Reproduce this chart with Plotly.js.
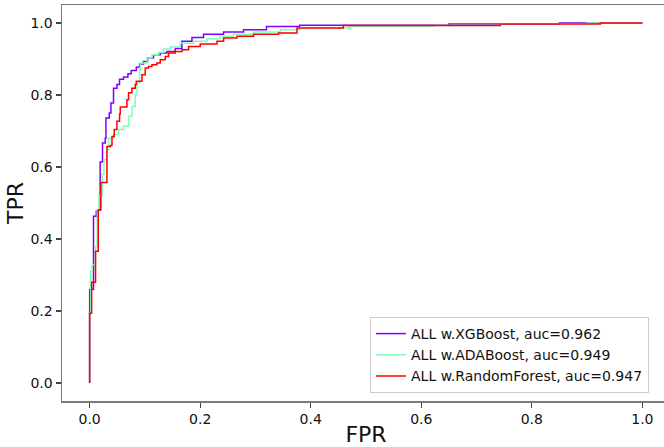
<!DOCTYPE html>
<html>
<head>
<meta charset="utf-8">
<script src="https://cdn.plot.ly/plotly-3.0.1.min.js"></script>
<style>
html,body{margin:0;padding:0;overflow:hidden;background:#fff;width:664px;height:447px;}
#chart{width:672px;height:447px;}
</style>
</head>
<body>
<div id="chart"></div>
<script>
// Series names and AUC labels
const seriesNames = ["ALL w.XGBoost, auc=0.962", "ALL w.ADABoost, auc=0.949", "ALL w.RandomForest, auc=0.947"];
const seriesColors = ["#8000ff", "#80ffb4", "#ff0000"];

// XGBoost ROC (step corners)
const xgbFpr = [0, 0, 0.007, 0.012, 0.016, 0.019, 0.0233, 0.0282, 0.0295, 0.0355, 0.0385, 0.0432, 0.0494, 0.0541, 0.0613, 0.0693, 0.0753, 0.0843, 0.0903, 0.0975, 0.1048, 0.1156, 0.1278, 0.1399, 0.1549, 0.167, 0.1851, 0.2061, 0.2423, 0.2785, 0.32, 0.38, 0.65, 0.85, 1.0];
const xgbTpr = [0, 0.26, 0.463, 0.477, 0.48, 0.614, 0.667, 0.68, 0.736, 0.75, 0.778, 0.819, 0.829, 0.844, 0.85, 0.859, 0.868, 0.877, 0.886, 0.893, 0.903, 0.912, 0.917, 0.921, 0.929, 0.949, 0.96, 0.969, 0.975, 0.981, 0.99, 0.994, 0.997, 1.0, 1.0];

// ADABoost ROC
const adaFpr = [0, 0, 0.0018, 0.0047, 0.0107, 0.0138, 0.0168, 0.0228, 0.0259, 0.0318, 0.0342, 0.0432, 0.0523, 0.0613, 0.0704, 0.0765, 0.0825, 0.0855, 0.0903, 0.0917, 0.1036, 0.1127, 0.1246, 0.1337, 0.1458, 0.164, 0.1881, 0.2122, 0.2363, 0.2604, 0.2966, 0.3449, 0.3811, 0.4716, 0.622, 0.743, 0.9, 1.0];
const adaTpr = [0, 0.194, 0.31, 0.329, 0.379, 0.477, 0.52, 0.58, 0.62, 0.648, 0.68, 0.69, 0.704, 0.713, 0.741, 0.768, 0.8, 0.833, 0.87, 0.889, 0.903, 0.912, 0.918, 0.928, 0.933, 0.944, 0.949, 0.956, 0.963, 0.969, 0.975, 0.981, 0.986, 0.991, 0.993, 0.998, 1.0, 1.0];

// RandomForest ROC
const rfFpr = [0, 0, 0.0036, 0.0107, 0.0156, 0.0204, 0.0313, 0.0373, 0.0404, 0.0445, 0.0494, 0.0541, 0.0554, 0.0675, 0.0704, 0.0765, 0.0825, 0.0843, 0.0946, 0.1006, 0.1066, 0.1127, 0.1218, 0.1278, 0.1368, 0.1428, 0.1549, 0.167, 0.179, 0.2001, 0.2304, 0.2423, 0.2666, 0.2966, 0.3418, 0.3751, 0.4589, 0.743, 0.924, 1.0];
const rfTpr = [0, 0.194, 0.28, 0.366, 0.481, 0.557, 0.657, 0.66, 0.685, 0.704, 0.727, 0.747, 0.767, 0.787, 0.806, 0.819, 0.829, 0.838, 0.856, 0.875, 0.879, 0.884, 0.889, 0.898, 0.907, 0.917, 0.921, 0.926, 0.935, 0.942, 0.949, 0.958, 0.963, 0.969, 0.972, 0.986, 0.993, 0.997, 1.0, 1.0];

const xTicks = [0, 0.2, 0.4, 0.6, 0.8, 1.0];
const xTickText = ["0.0", "0.2", "0.4", "0.6", "0.8", "1.0"];
const yTicks = [0, 0.2, 0.4, 0.6, 0.8, 1.0];
const yTickText = ["0.0", "0.2", "0.4", "0.6", "0.8", "1.0"];

const xs = [xgbFpr, adaFpr, rfFpr];
const ys = [xgbTpr, adaTpr, rfTpr];

const traces = xs.map((x, i) => ({
  x: x, y: ys[i], type: "scatter", mode: "lines",
  name: seriesNames[i],
  line: {color: seriesColors[i], width: 1.5, shape: "hv"}
}));

const font = "DejaVu Sans, sans-serif";
const axisCommon = {
  showgrid: false, zeroline: false, showline: true, mirror: true,
  linecolor: "#7a7a7a", linewidth: 1.5,
  ticks: "outside", ticklen: 5, tickwidth: 1.2, tickcolor: "#444",
  tickfont: {family: font, size: 14, color: "#111"}
};

const layout = {
  width: 672, height: 447,
  margin: {l: 62, r: 2, t: 5, b: 46},
  paper_bgcolor: "#fff", plot_bgcolor: "#fff",
  showlegend: true,
  xaxis: Object.assign({}, axisCommon, {
    range: [-0.05, 1.05], tickvals: xTicks, ticktext: xTickText,
    title: {text: "FPR", font: {family: font, size: 22, color: "#111"}, standoff: 0}
  }),
  yaxis: Object.assign({}, axisCommon, {
    range: [-0.05, 1.05], tickvals: yTicks, ticktext: yTickText,
    title: {text: "TPR", font: {family: font, size: 22, color: "#111"}, standoff: 0}
  }),
  legend: {
    x: 0.5066, y: 0.0202, xanchor: "left", yanchor: "bottom",
    bgcolor: "rgba(255,255,255,0.85)", bordercolor: "#cccccc", borderwidth: 1,
    font: {family: font, size: 14, color: "#111"},
    itemwidth: 30
  }
};

Plotly.newPlot("chart", traces, layout, {displayModeBar: false, staticPlot: true});
</script>
</body>
</html>
